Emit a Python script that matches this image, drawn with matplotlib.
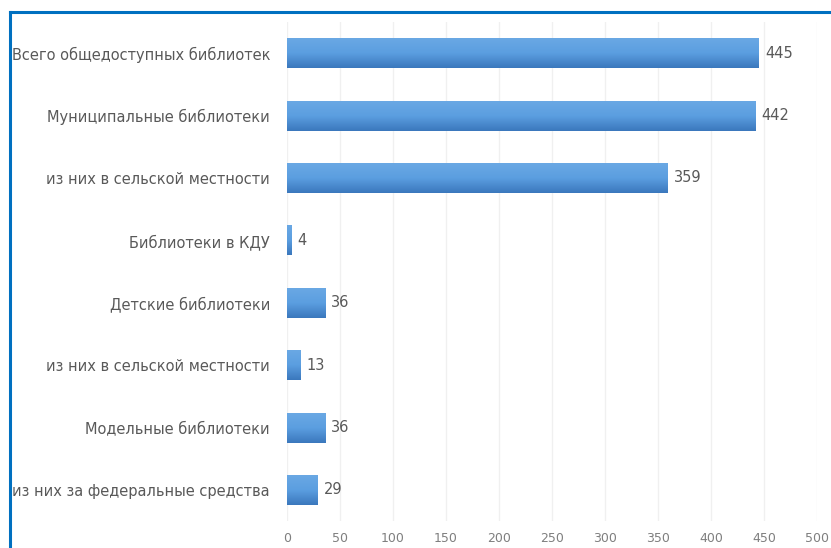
import matplotlib.pyplot as plt
from matplotlib.colors import LinearSegmentedColormap
from matplotlib.lines import Line2D
import numpy as np

categories = ['Всего общедоступных библиотек', 'Муниципальные библиотеки',
              'из них в сельской местности', 'Библиотеки в КДУ',
              'Детские библиотеки', 'из них в сельской местности',
              'Модельные библиотеки', 'из них за федеральные средства']
values = [445, 442, 359, 4, 36, 13, 36, 29]
xticks = list(range(0, 501, 50))

FS = 10.5
txt_c = '#595959'
# oben hell, unten dunkel
grad = LinearSegmentedColormap.from_list('bar', ['#6AA8E4', '#5B9EE0', '#3B78BD'])

fig = plt.figure(figsize=(8.31, 5.48), dpi=100)
ax = fig.add_axes([0.345, 0.049, 0.638, 0.911])

ypos = np.arange(len(categories))
bh = 0.48
ax.barh(ypos, values, height=bh, color='none', edgecolor='none', zorder=2)

# vertikaler Verlauf in jedem Balken
g = np.linspace(0, 1, 64).reshape(-1, 1)
for y, v in zip(ypos, values):
    ax.imshow(g, extent=[0, v, y + bh / 2, y - bh / 2], cmap=grad, aspect='auto',
              origin='upper', zorder=2, interpolation='bilinear')
    ax.text(v + 6, y, str(v), va='center', ha='left', fontsize=FS, color=txt_c)

ax.set_xlim(0, 500)
ax.set_ylim(len(categories) - 0.5, -0.5)
ax.set_xticks(xticks)
ax.set_yticks(ypos)
ax.set_yticklabels(categories)
ax.grid(axis='x', color='#F0F0F0', linewidth=1, zorder=0)
ax.set_axisbelow(True)
for s in ax.spines.values():
    s.set_visible(False)
ax.tick_params(axis='both', length=0, colors=txt_c)
ax.tick_params(axis='y', labelsize=FS, pad=12)
ax.tick_params(axis='x', labelsize=9, pad=8, labelcolor='#7F7F7F')

# blauer Rahmen oben und links
fig.add_artist(Line2D([10 / 831, 1], [1 - 12 / 548, 1 - 12 / 548], transform=fig.transFigure, color='#0070C0', linewidth=2.2))
fig.add_artist(Line2D([10 / 831, 10 / 831], [0, 1 - 12 / 548], transform=fig.transFigure, color='#0070C0', linewidth=2.2))

plt.savefig('out.png', dpi=100)
